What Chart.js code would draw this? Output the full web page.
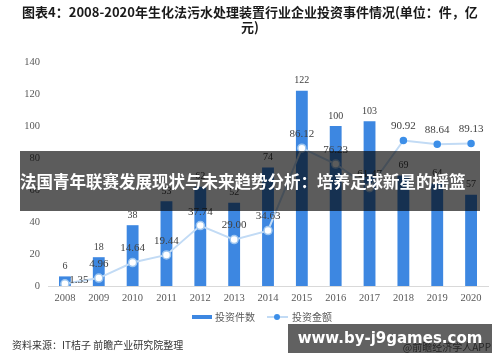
<!DOCTYPE html>
<html>
<head>
<meta charset="utf-8">
<script src="https://cdn.jsdelivr.net/npm/chart.js@4.4.0/dist/chart.umd.min.js"></script>
<style>
  html, body { margin: 0; padding: 0; background: #fff; }
  #wrap { position: relative; width: 500px; height: 362px; overflow: hidden; font-family: "Noto Sans CJK SC", "Noto Sans", sans-serif; }
  #chart { position: absolute; left: 0; top: 0; }
  .title { position: absolute; left: 0; top: 4px; width: 500px; text-align: center; font-size: 13px; font-weight: bold; line-height: 15px; color: #1a1a1a; }
  .legend { position: absolute; top: 310px; left: 0; width: 500px; font-size: 10px; color: #595959; }
  .legend span { position: absolute; line-height: 14px; }
  .barKey { position: absolute; left: 192px; top: 315px; width: 20px; height: 4px; background: #3d87e1; }
  .lineKey { position: absolute; left: 267px; top: 316px; width: 21px; height: 2px; background: #c2dbf5; }
  .dotKey { position: absolute; left: 274px; top: 314px; width: 6px; height: 6px; border-radius: 3px; background: #3d8fe8; }
  .source { position: absolute; left: 12px; top: 337px; font-size: 10px; color: #333; }
  .credit { position: absolute; right: 9px; top: 339px; font-size: 10px; color: #666; }
  .band { position: absolute; left: 20px; top: 151px; width: 460px; height: 60px; background: rgba(0,0,0,0.64); color: #fff; font-weight: bold; font-size: 16.5px; line-height: 60px; white-space: nowrap; }
  .stamp { position: absolute; left: 288px; top: 324px; width: 204px; height: 29px; background: rgba(0,0,0,0.62); color: #fff; font-family: "DejaVu Sans", sans-serif; font-weight: bold; font-size: 15px; line-height: 28px; text-align: center; white-space: nowrap; }
</style>
</head>
<body>
<div id="wrap">
  <canvas id="chart" width="500" height="362"></canvas>
  <div class="title">图表4：2008-2020年生化法污水处理装置行业企业投资事件情况(单位：件，亿<br>元)</div>
  <div class="barKey"></div>
  <div class="legend"><span style="left:215px">投资件数</span><span style="left:292px">投资金额</span></div>
  <div class="lineKey"></div>
  <div class="dotKey"></div>
  <div class="source">资料来源：IT桔子 前瞻产业研究院整理</div>
  <div class="credit">@前瞻经济学人APP</div>
  <div class="band">法国青年联赛发展现状与未来趋势分析：培养足球新星的摇篮</div>
  <div class="stamp">www.by-j9games.com</div>
</div>
<script>
const years = ["2008", "2009", "2010", "2011", "2012", "2013", "2014", "2015", "2016", "2017", "2018", "2019", "2020"];
const eventCounts = [6, 18, 38, 53, 62, 52, 74, 122, 100, 103, 69, 64, 57];
const investAmounts = [1.35, 4.96, 14.64, 19.44, 37.74, 29.00, 34.63, 86.12, 76.23, 61.47, 90.92, 88.64, 89.13];
const yTicks = [0, 20, 40, 60, 80, 100, 120, 140];

// open circles up to 2017, filled dots afterwards
const filled = years.map(y => parseInt(y) >= 2018);

const valueLabels = {
    id: "valueLabels",
    afterDatasetsDraw(chart) {
        const ctx = chart.ctx;
        ctx.save();
        ctx.fillStyle = "#404040";
        ctx.textAlign = "center";
        ctx.textBaseline = "middle";
        ctx.font = '10px "Liberation Serif"';
        chart.getDatasetMeta(0).data.forEach((bar, i) => {
            ctx.fillText(String(eventCounts[i]), bar.x, bar.y - 10);
        });
        ctx.font = '11px "Liberation Serif"';
        chart.getDatasetMeta(1).data.forEach((pt, i) => {
            const dx = i === 0 ? 14 : 0;
            const dy = i === 0 ? -4 : -14;
            ctx.fillText(investAmounts[i].toFixed(2), pt.x + dx, pt.y + dy);
        });
        ctx.restore();
    }
};

const ctx = document.querySelector("#chart").getContext("2d");

new Chart(ctx, {
    data: {
        labels: years,
        datasets: [
            {
                type: "bar",
                label: "投资件数",
                data: eventCounts,
                backgroundColor: "#3d87e1",
                barPercentage: 0.7,
                categoryPercentage: 0.5,
                order: 1
            },
            {
                type: "line",
                label: "投资金额",
                data: investAmounts,
                borderColor: "#c2dbf5",
                borderWidth: 2,
                pointRadius: filled.map(f => f ? 3 : 4),
                pointBackgroundColor: filled.map(f => f ? "#3d8fe8" : "#ffffff"),
                pointBorderColor: filled.map(f => f ? "#3d8fe8" : "#9ec6ef"),
                pointBorderWidth: 1.5,
                tension: 0,
                order: 0
            }
        ]
    },
    options: {
        responsive: false,
        animation: false,
        layout: { padding: { left: 8, right: 12, top: 62, bottom: 54 } },
        scales: {
            x: {
                grid: { display: false, drawTicks: false },
                border: { display: true, color: "#d9d9d9" },
                ticks: { color: "#595959", font: { family: "Liberation Serif", size: 10.5 }, padding: 6 },
                afterFit: s => { s.height = 22; }
            },
            y: {
                min: 0,
                max: 140,
                afterBuildTicks: s => { s.ticks = yTicks.map(v => ({ value: v })); },
                grid: { display: false, drawTicks: false },
                border: { display: false },
                ticks: { color: "#595959", font: { family: "Liberation Serif", size: 10.5 }, padding: 8 },
                afterFit: s => { s.width = 40; }
            }
        },
        plugins: {
            legend: { display: false },
            tooltip: { enabled: false }
        }
    },
    plugins: [valueLabels]
});
</script>
</body>
</html>
